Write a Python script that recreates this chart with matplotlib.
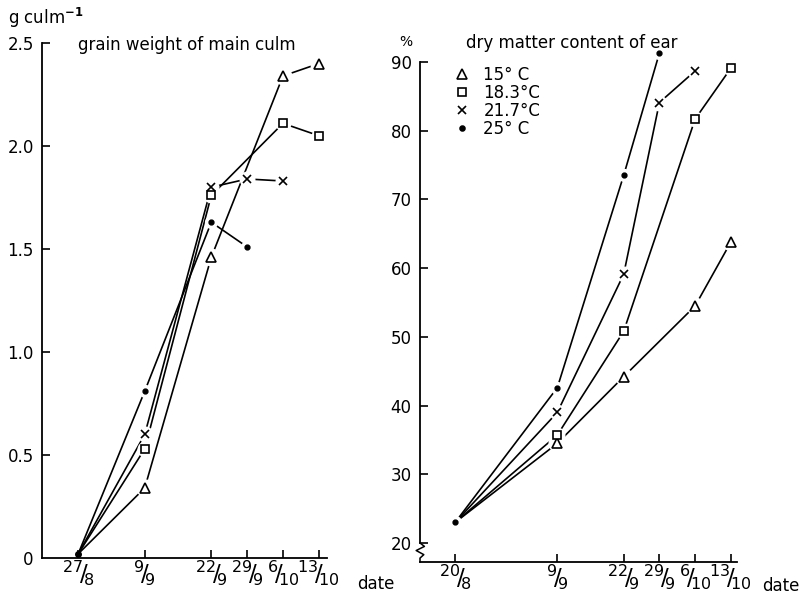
import matplotlib
matplotlib.use("Agg")
import matplotlib.pyplot as plt
from matplotlib.lines import Line2D

plt.rcParams['font.family'] = ['DejaVu Sans']
plt.rcParams['mathtext.fontset'] = 'dejavusans'

# ---------------- data ----------------
# Left panel: grain weight of main culm (g culm-1); x = days after 27/8
grain_tick_days = [0, 13, 26, 33, 40, 47]
grain_tick_labels = [r'$^{27}\!/\!_{8}$', r'$^{9}\!/\!_{9}$', r'$^{22}\!/\!_{9}$',
                     r'$^{29}\!/\!_{9}$', r'$^{6}\!/\!_{10}$', r'$^{13}\!/\!_{10}$']
g15_x = [0, 13, 26, 40, 47]
g15_y = [0.02, 0.34, 1.46, 2.34, 2.40]
g183_x = [0, 13, 26, 40, 47]
g183_y = [0.02, 0.53, 1.76, 2.11, 2.05]
g217_x = [0, 13, 26, 33, 40]
g217_y = [0.02, 0.60, 1.80, 1.84, 1.83]
g25_x = [0, 13, 26, 33]
g25_y = [0.02, 0.81, 1.63, 1.51]
grain_yticks = [0.5, 1.0, 1.5, 2.0, 2.5]
grain_ytick_labels = ['0.5', '1.0', '1.5', '2.0', '2.5']

# Right panel: dry matter content of ear (%); x = days after 20/8
dm_tick_days = [0, 20, 33, 40, 47, 54]
dm_tick_labels = [r'$^{20}\!/\!_{8}$', r'$^{9}\!/\!_{9}$', r'$^{22}\!/\!_{9}$',
                  r'$^{29}\!/\!_{9}$', r'$^{6}\!/\!_{10}$', r'$^{13}\!/\!_{10}$']
d15_x = [0, 20, 33, 47, 54]
d15_y = [23, 34.5, 44.2, 54.5, 63.8]
d183_x = [0, 20, 33, 47, 54]
d183_y = [23, 35.7, 50.8, 81.7, 89.1]
d217_x = [0, 20, 33, 40, 47]
d217_y = [23, 39.0, 59.1, 84.1, 88.7]
d25_x = [0, 20, 33, 40]
d25_y = [23, 42.6, 73.5, 91.3]
dm_yticks = [20, 30, 40, 50, 60, 70, 80, 90]

series_labels = ['15° C', '18.3°C', '21.7°C', '25° C']
markers = ['^', 's', 'x', 'o']
msizes = [7, 5.5, 5.5, 3.5]

W, H = 806, 600
fig = plt.figure(figsize=(W / 100, H / 100), dpi=100)

def fx(px):
    return px / W

def fy(py):
    return 1 - py / H

axL = fig.add_axes([fx(42), fy(558), (327 - 42) / W, (558 - 43) / H])
axR = fig.add_axes([fx(420), fy(562), (737 - 420) / W, (562 - 62) / H])

LW = 1.2

def draw_panel(ax, series, dot_first):
    for (xs, ys), m, ms in zip(series, markers, msizes):
        ax.plot(xs, ys, color='black', lw=LW, clip_on=False, zorder=2)
    pts = []
    for (xs, ys), m, ms in zip(series, markers, msizes):
        first = dot_first and m == 'o'
        mx = xs if first else xs[1:]
        my = ys if first else ys[1:]
        pts.append((mx, my, m, ms))
    # white halo so that lines stop short of the markers
    for mx, my, m, ms in pts:
        ax.plot(mx, my, ls='none', marker='o', ms=ms + 5, mfc='white', mec='white',
                clip_on=False, zorder=3)
    for mx, my, m, ms in pts:
        if m == 'o':
            ax.plot(mx, my, ls='none', marker='o', ms=ms, mfc='black', mec='black',
                    clip_on=False, zorder=4)
        else:
            ax.plot(mx, my, ls='none', marker=m, ms=ms, mfc='white', mec='black',
                    mew=1.2, clip_on=False, zorder=4)

# ---------------- left panel ----------------
left_series = [(g15_x, g15_y), (g183_x, g183_y), (g217_x, g217_y), (g25_x, g25_y)]
draw_panel(axL, left_series, dot_first=False)
axL.plot([g25_x[0]], [g25_y[0]], ls='none', marker='o', ms=4, color='black',
         clip_on=False, zorder=5)

axL.set_xlim(-7.07, 48.6)
axL.set_ylim(0, 2.5)
axL.set_xticks(grain_tick_days)
axL.set_xticklabels(grain_tick_labels, fontsize=16.5)
axL.set_yticks([0] + grain_yticks)
axL.set_yticklabels(['0'] + grain_ytick_labels, fontsize=12)
axL.yaxis.get_major_ticks()[0].tick1line.set_visible(False)

# ---------------- right panel ----------------
right_series = [(d15_x, d15_y), (d183_x, d183_y), (d217_x, d217_y), (d25_x, d25_y)]
draw_panel(axR, right_series, dot_first=True)

axR.set_xlim(-6.9, 55.2)
axR.set_ylim(17.23, 90)
axR.set_xticks(dm_tick_days)
axR.set_xticklabels(dm_tick_labels, fontsize=16.5)
axR.set_yticks(dm_yticks)
axR.set_yticklabels([str(v) for v in dm_yticks], fontsize=12)
axR.spines['left'].set_bounds(20, 90)

# axis break squiggle on the right y-axis
ytr = axR.get_yaxis_transform()
axR.plot([0, 0.014, -0.012, 0.012, 0, 0],
         [20, 19.5, 18.9, 18.3, 17.8, 17.23],
         color='black', lw=1.1, transform=ytr, clip_on=False)

for ax in (axL, axR):
    ax.spines['top'].set_visible(False)
    ax.spines['right'].set_visible(False)
    for s in ('left', 'bottom'):
        ax.spines[s].set_linewidth(1.3)
    ax.tick_params(axis='both', direction='in', length=6, width=1.2, colors='black')
    ax.tick_params(axis='x', pad=1)
    ax.tick_params(axis='y', pad=6)
    ax.set_facecolor('none')

# legend
handles = [Line2D([], [], ls='none', marker=m, ms=ms, mfc=('black' if m == 'o' else 'white'),
                  mec='black', mew=1.2) for m, ms in zip(markers, msizes)]
axR.legend(handles, series_labels, loc='upper left', bbox_to_anchor=(fx(455), fy(66)),
           bbox_transform=fig.transFigure, frameon=False, fontsize=12,
           handlelength=0.8, handletextpad=0.9, labelspacing=0.0,
           borderpad=0, borderaxespad=0)

# texts
fig.text(fx(8), fy(18), r'g culm$^{\mathbf{-1}}$', fontsize=12, va='center', ha='left')
fig.text(fx(78), fy(45), 'grain weight of main culm', fontsize=12, va='center', ha='left')
fig.text(fx(399), fy(42), '%', fontsize=10, va='center', ha='left')
fig.text(fx(466), fy(43), 'dry matter content of ear', fontsize=12, va='center', ha='left')
fig.text(fx(357), fy(589), 'date', fontsize=12, va='baseline', ha='left')
fig.text(fx(762), fy(591), 'date', fontsize=12, va='baseline', ha='left')

fig.savefig('out.png', dpi=100, facecolor='white')
